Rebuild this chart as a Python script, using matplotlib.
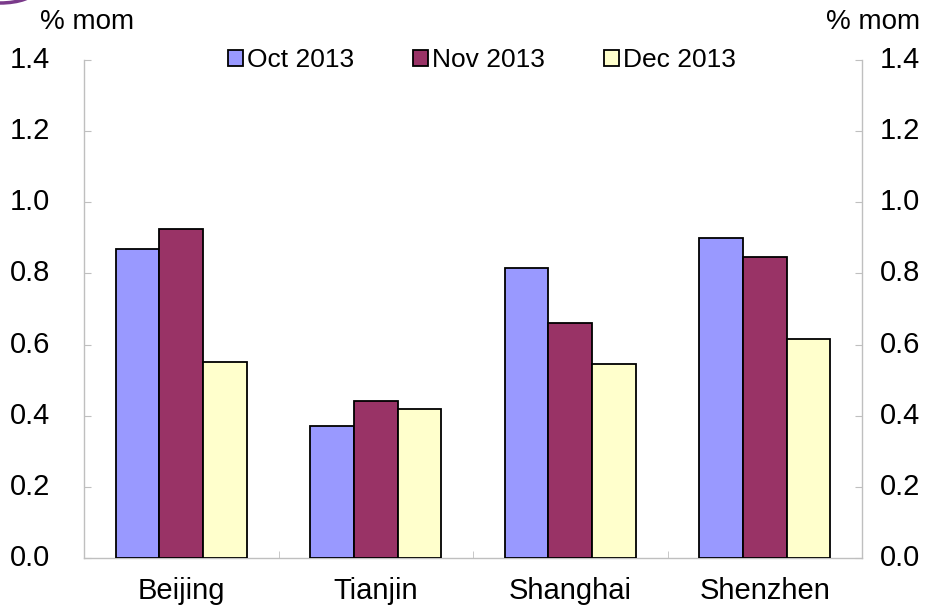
import matplotlib
matplotlib.use("Agg")
import matplotlib.pyplot as plt
import numpy as np
from matplotlib.patches import Ellipse

plt.rcParams['font.family'] = ['Liberation Sans', 'DejaVu Sans']

cities = ["Beijing", "Tianjin", "Shanghai", "Shenzhen"]
series_names = ["Oct 2013", "Nov 2013", "Dec 2013"]
oct_vals = [0.87, 0.37, 0.815, 0.90]
nov_vals = [0.925, 0.44, 0.66, 0.845]
dec_vals = [0.55, 0.42, 0.545, 0.615]
colors = ["#9999FF", "#993366", "#FFFFCC"]
yticks = [0.0, 0.2, 0.4, 0.6, 0.8, 1.0, 1.2, 1.4]

fig = plt.figure(figsize=(9.4, 6.15), dpi=100)
W, H = 940, 615
ax = fig.add_axes([84 / W, 1 - 558 / H, (862 - 84) / W, (558 - 60) / H])

x = np.arange(len(cities))
bw = 0.225
for i, (vals, c, name) in enumerate(zip([oct_vals, nov_vals, dec_vals], colors, series_names)):
    ax.bar(x + (i - 1) * bw, vals, bw, color=c, edgecolor="black", linewidth=1.3, label=name, zorder=3)

ax.set_xlim(-0.5, len(cities) - 0.5)
ax.set_ylim(0, 1.4)
ax.set_yticks(yticks)
ax.set_yticklabels([f"{v:.1f}" for v in yticks])
ax.set_xticks(x)
ax.set_xticklabels(cities)
ax.set_xticks(np.arange(len(cities) + 1) - 0.5, minor=True)

for s in ["left", "right", "bottom"]:
    ax.spines[s].set_color("#BFBFBF")
    ax.spines[s].set_linewidth(1.0)
ax.spines["top"].set_visible(False)

ax.tick_params(axis="y", which="both", direction="in", length=5, color="#BFBFBF",
               labelsize=21, left=True, right=True, labelleft=False, labelright=False)
ax.tick_params(axis="x", which="major", length=0, labelsize=21, pad=14)
ax.tick_params(axis="x", which="minor", direction="in", length=5, color="#BFBFBF")

for v in yticks:
    ax.annotate(f"{v:.1f}", xy=(0, v), xycoords=("axes fraction", "data"),
                xytext=(-34 / 1.389, 0), textcoords="offset points",
                ha="right", va="center", fontsize=21)
    ax.annotate(f"{v:.1f}", xy=(1, v), xycoords=("axes fraction", "data"),
                xytext=(18 / 1.389, 0), textcoords="offset points",
                ha="left", va="center", fontsize=21)

fig.text(40 / W, 1 - 22 / H, "% mom", fontsize=20, va="center", ha="left")
fig.text(920 / W, 1 - 22 / H, "% mom", fontsize=20, va="center", ha="right")

leg = ax.legend(loc="center", bbox_to_anchor=((482 - 84) / 778, 1.0), ncol=3, frameon=False,
                fontsize=19, handlelength=0.57, handleheight=0.57, handletextpad=0.15,
                columnspacing=2.25, borderpad=0)

fig.patches.append(Ellipse((0, 1 + 10 / H), 70 / W, 26 / H, transform=fig.transFigure,
                           facecolor="none", edgecolor="#7A3A8A", linewidth=2.5))

fig.savefig("out.png", dpi=100)
